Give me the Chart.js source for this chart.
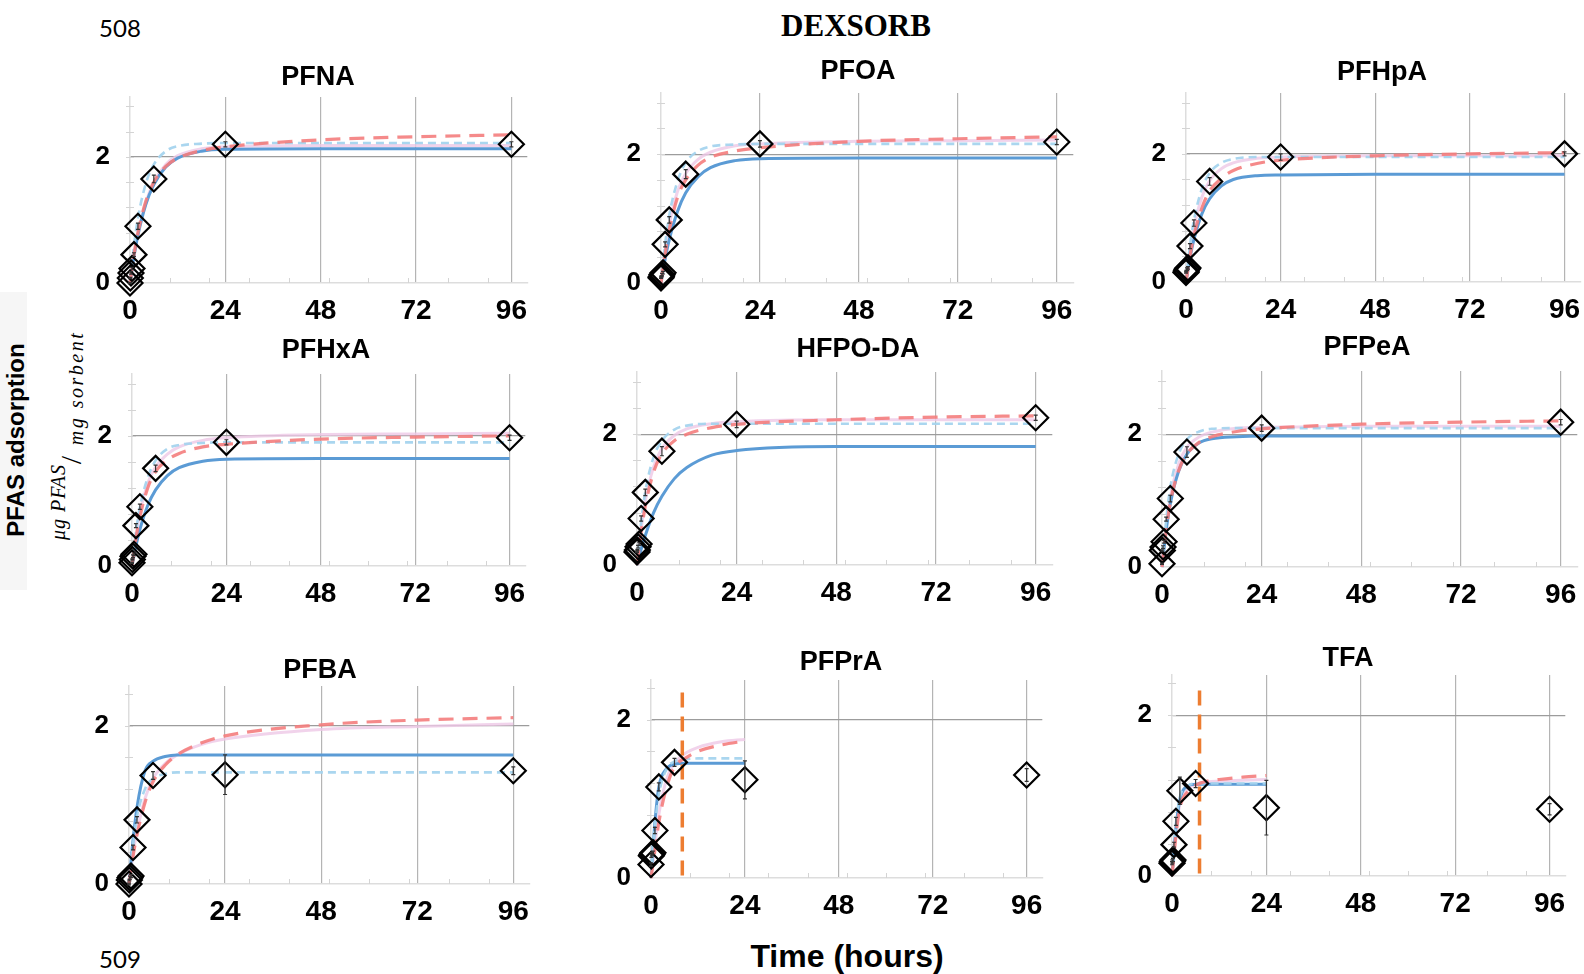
<!DOCTYPE html>
<html>
<head>
<meta charset="utf-8">
<script src="https://cdn.jsdelivr.net/npm/chart.js@4.4.1/dist/chart.umd.min.js"></script>
<style>
  html, body { margin: 0; padding: 0; background: #fff; }
  #page { position: relative; width: 1584px; height: 974px; overflow: hidden; background: #fff; }
  #page canvas { position: absolute; }
  .txt { position: absolute; white-space: nowrap; transform: translate(-50%, -50%); color: #000; }
  .rot { transform: translate(-50%, -50%) rotate(-90deg); }
</style>
</head>
<body>
<div id="page">
  <div class="txt" style="left:120px;top:27px;font:24px Lato, 'Open Sans', sans-serif;">508</div>
  <div class="txt" style="left:120px;top:958px;font:24px Lato, 'Open Sans', sans-serif;">509</div>
  <div class="txt" style="left:856px;top:26px;font:bold 31px 'Liberation Serif', 'DejaVu Serif', serif;">DEXSORB</div>
  <div class="txt" style="left:847px;top:956px;font:bold 32px 'Liberation Sans', Arial, sans-serif;">Time (hours)</div>
  <div style="position:absolute;left:0;top:292px;width:27px;height:298px;background:#f6f6f6;"></div>
  <div class="txt rot" style="left:16px;top:440px;font:bold 24px 'Liberation Sans', Arial, sans-serif;">PFAS adsorption</div>
  <div class="txt rot" style="left:58px;top:502px;font:italic 20px 'Liberation Serif', 'DejaVu Serif', serif;letter-spacing:1px;">μg PFAS</div>
  <div class="txt rot" style="left:71px;top:460px;font:30px 'Liberation Serif', 'DejaVu Serif', serif;">/</div>
  <div class="txt rot" style="left:76px;top:388px;font:italic 20px 'Liberation Serif', 'DejaVu Serif', serif;letter-spacing:2.5px;">mg sorbent</div>
</div>
<script>
// Sampling times of the measurements (hours)
const hours = [0, 0.083, 0.25, 0.5, 1, 2, 6, 24, 96];
const fitHours = [0, 1, 2, 4, 6, 9, 12, 18, 24, 48, 72, 96];

const xTickLabels = [0, 24, 48, 72, 96];
const yTickLabels = [0, 2];

// Measured adsorption (ug PFAS / mg sorbent) and error bars
const pfnaMeasured = [0, 0.08, 0.16, 0.23, 0.45, 0.9, 1.65, 2.2, 2.2];
const pfnaError = [0.01, 0.01, 0.02, 0.02, 0.03, 0.05, 0.06, 0.04, 0.04];
const pfoaMeasured = [0.08, 0.1, 0.13, 0.16, 0.6, 0.98, 1.69, 2.16, 2.19];
const pfoaError = [0.01, 0.01, 0.02, 0.02, 0.04, 0.05, 0.07, 0.05, 0.04];
const pfhpaMeasured = [0.15, 0.17, 0.2, 0.22, 0.56, 0.92, 1.57, 1.95, 2.0];
const pfhpaError = [0.01, 0.01, 0.02, 0.02, 0.04, 0.05, 0.06, 0.05, 0.03];
const pfhxaMeasured = [0.05, 0.1, 0.15, 0.18, 0.62, 0.91, 1.5, 1.9, 1.97];
const pfhxaError = [0.01, 0.01, 0.02, 0.02, 0.03, 0.04, 0.05, 0.04, 0.04];
const hfpodaMeasured = [0.2, 0.23, 0.28, 0.32, 0.71, 1.11, 1.74, 2.15, 2.25];
const hfpodaError = [0.01, 0.01, 0.02, 0.02, 0.04, 0.05, 0.07, 0.05, 0.04];
const pfpeaMeasured = [0.05, 0.25, 0.3, 0.38, 0.72, 1.03, 1.73, 2.09, 2.18];
const pfpeaError = [0.01, 0.01, 0.02, 0.02, 0.03, 0.05, 0.08, 0.05, 0.04];
const pfbaMeasured = [0, 0.05, 0.08, 0.1, 0.46, 0.81, 1.37, 1.38, 1.43];
const pfbaError = [0.01, 0.01, 0.02, 0.02, 0.03, 0.04, 0.05, 0.25, 0.05];
const pfpraMeasured = [0.17, 0.28, 0.3, 0.32, 0.6, 1.15, 1.46, 1.24, 1.3];
const pfpraError = [0.02, 0.02, 0.02, 0.02, 0.04, 0.05, 0.05, 0.24, 0.08];
const tfaMeasured = [0.16, 0.18, 0.2, 0.39, 0.68, 1.06, 1.15, 0.85, 0.83];
const tfaError = [0.02, 0.02, 0.02, 0.03, 0.05, 0.17, 0.05, 0.34, 0.07];

// Model curves: A = solid blue, B = light blue dashed, C = red dashed, D = pink
const pfnaFitA = [0, 0.42, 0.76, 1.25, 1.56, 1.84, 1.98, 2.09, 2.12, 2.13, 2.13, 2.13];
const pfnaFitB = [0, 0.59, 1.03, 1.58, 1.88, 2.09, 2.17, 2.21, 2.22, 2.22, 2.22, 2.22];
const pfnaFitC = [0, 0.45, 0.8, 1.3, 1.6, 1.85, 1.98, 2.1, 2.16, 2.27, 2.32, 2.35];
const pfnaFitD = [0, 0.43, 0.78, 1.28, 1.6, 1.88, 2.02, 2.13, 2.16, 2.18, 2.18, 2.18];

const pfoaFitA = [0, 0.37, 0.67, 1.11, 1.4, 1.65, 1.79, 1.9, 1.93, 1.94, 1.94, 1.94];
const pfoaFitB = [0, 0.6, 1.05, 1.58, 1.87, 2.05, 2.12, 2.15, 2.16, 2.16, 2.16, 2.16];
const pfoaFitC = [0, 0.45, 0.82, 1.33, 1.6, 1.83, 1.95, 2.05, 2.1, 2.2, 2.24, 2.27];
const pfoaFitD = [0, 0.5, 0.9, 1.42, 1.7, 1.92, 2.03, 2.13, 2.16, 2.2, 2.21, 2.22];

const pfhpaFitA = [0, 0.37, 0.66, 1.06, 1.3, 1.5, 1.6, 1.66, 1.67, 1.68, 1.68, 1.68];
const pfhpaFitB = [0, 0.56, 0.96, 1.45, 1.7, 1.86, 1.92, 1.95, 1.95, 1.95, 1.95, 1.95];
const pfhpaFitC = [0, 0.4, 0.72, 1.15, 1.42, 1.62, 1.74, 1.85, 1.9, 1.97, 2.0, 2.02];
const pfhpaFitD = [0, 0.48, 0.85, 1.32, 1.58, 1.77, 1.86, 1.93, 1.95, 1.97, 1.97, 1.97];

const pfhxaFitA = [0, 0.31, 0.56, 0.93, 1.17, 1.39, 1.51, 1.61, 1.64, 1.65, 1.65, 1.65];
const pfhxaFitB = [0, 0.52, 0.9, 1.36, 1.62, 1.8, 1.86, 1.89, 1.9, 1.9, 1.9, 1.9];
const pfhxaFitC = [0, 0.42, 0.75, 1.2, 1.45, 1.63, 1.73, 1.83, 1.87, 1.95, 1.98, 2.0];
const pfhxaFitD = [0, 0.45, 0.8, 1.27, 1.52, 1.72, 1.83, 1.93, 1.97, 2.02, 2.03, 2.04];

const hfpodaFitA = [0, 0.24, 0.45, 0.8, 1.05, 1.32, 1.49, 1.68, 1.75, 1.81, 1.81, 1.81];
const hfpodaFitB = [0, 0.65, 1.12, 1.65, 1.9, 2.07, 2.13, 2.16, 2.16, 2.16, 2.16, 2.16];
const hfpodaFitC = [0, 0.5, 0.9, 1.42, 1.7, 1.9, 2.0, 2.1, 2.15, 2.22, 2.26, 2.28];
const hfpodaFitD = [0, 0.55, 0.98, 1.5, 1.78, 1.98, 2.08, 2.16, 2.19, 2.22, 2.22, 2.22];

const pfpeaFitA = [0, 0.55, 0.95, 1.44, 1.7, 1.87, 1.93, 1.96, 1.97, 1.97, 1.97, 1.97];
const pfpeaFitB = [0, 0.7, 1.2, 1.7, 1.92, 2.04, 2.08, 2.09, 2.09, 2.09, 2.09, 2.09];
const pfpeaFitC = [0, 0.55, 0.97, 1.45, 1.7, 1.88, 1.96, 2.04, 2.08, 2.15, 2.18, 2.2];
const pfpeaFitD = [0, 0.6, 1.05, 1.55, 1.8, 1.96, 2.03, 2.09, 2.1, 2.12, 2.12, 2.12];

const pfbaFitA = [0, 0.55, 0.97, 1.43, 1.55, 1.61, 1.63, 1.63, 1.63, 1.63, 1.63, 1.63];
const pfbaFitB = [0, 0.5, 0.85, 1.2, 1.33, 1.39, 1.41, 1.41, 1.41, 1.41, 1.41, 1.41];
const pfbaFitC = [0, 0.35, 0.62, 1.03, 1.29, 1.5, 1.63, 1.78, 1.87, 2.01, 2.07, 2.1];
const pfbaFitD = [0, 0.38, 0.66, 1.08, 1.33, 1.52, 1.63, 1.76, 1.83, 1.95, 1.99, 2.02];

// PFPrA and TFA curves stop at 24 h
const pfpraFitA = [0, 0.7, 1.15, 1.38, 1.44, 1.45, 1.45, 1.45, 1.45];
const pfpraFitB = [0, 0.65, 1.05, 1.38, 1.47, 1.5, 1.51, 1.51, 1.51];
const pfpraFitC = [0, 0.35, 0.7, 1.15, 1.4, 1.52, 1.6, 1.68, 1.73];
const pfpraFitD = [0, 0.4, 0.8, 1.25, 1.45, 1.58, 1.65, 1.72, 1.75];

const tfaFitA = [0, 0.6, 0.95, 1.12, 1.14, 1.14, 1.14, 1.14, 1.14];
const tfaFitB = [0, 0.65, 0.98, 1.12, 1.15, 1.15, 1.15, 1.15, 1.15];
const tfaFitC = [0, 0.5, 0.85, 1.05, 1.13, 1.18, 1.2, 1.23, 1.25];
const tfaFitD = [0, 0.55, 0.9, 1.08, 1.14, 1.17, 1.18, 1.19, 1.2];

// Orange dashed cut-off line: [hour, y from, y to]
const pfpraCutoff = [8, 0.03, 2.38];
const tfaCutoff = [7, 0.03, 2.31];

// Panel placement on the page (pixels)
const panels = [
    { name: 'PFNA', measured: pfnaMeasured, error: pfnaError, fits: [pfnaFitA, pfnaFitB, pfnaFitC, pfnaFitD], x0: 130, x96: 514, y0: 283, unit: 63, yMax: 2.95, title: [318, 78] },
    { name: 'PFOA', measured: pfoaMeasured, error: pfoaError, fits: [pfoaFitA, pfoaFitB, pfoaFitC, pfoaFitD], x0: 661, x96: 1059, y0: 283, unit: 64.5, yMax: 2.95, title: [858, 72] },
    { name: 'PFHpA', measured: pfhpaMeasured, error: pfhpaError, fits: [pfhpaFitA, pfhpaFitB, pfhpaFitC, pfhpaFitD], x0: 1186, x96: 1567, y0: 282, unit: 64, yMax: 2.95, title: [1382, 73] },
    { name: 'PFHxA', measured: pfhxaMeasured, error: pfhxaError, fits: [pfhxaFitA, pfhxaFitB, pfhxaFitC, pfhxaFitD], x0: 132, x96: 512, y0: 566, unit: 65, yMax: 2.95, title: [326, 351] },
    { name: 'HFPO-DA', measured: hfpodaMeasured, error: hfpodaError, fits: [hfpodaFitA, hfpodaFitB, hfpodaFitC, hfpodaFitD], x0: 637, x96: 1038, y0: 565, unit: 65.5, yMax: 2.95, title: [858, 350] },
    { name: 'PFPeA', measured: pfpeaMeasured, error: pfpeaError, fits: [pfpeaFitA, pfpeaFitB, pfpeaFitC, pfpeaFitD], x0: 1162, x96: 1563, y0: 567, unit: 66.5, yMax: 2.95, title: [1367, 348] },
    { name: 'PFBA', measured: pfbaMeasured, error: pfbaError, fits: [pfbaFitA, pfbaFitB, pfbaFitC, pfbaFitD], x0: 129, x96: 516, y0: 883, unit: 79, yMax: 2.5, title: [320, 671] },
    { name: 'PFPrA', measured: pfpraMeasured, error: pfpraError, fits: [pfpraFitA, pfpraFitB, pfpraFitC, pfpraFitD], cutoff: pfpraCutoff, x0: 651, x96: 1029, y0: 877, unit: 79, yMax: 2.5, title: [841, 663] },
    { name: 'TFA', measured: tfaMeasured, error: tfaError, fits: [tfaFitA, tfaFitB, tfaFitC, tfaFitD], cutoff: tfaCutoff, x0: 1172, x96: 1552, y0: 876, unit: 80.5, yMax: 2.5, title: [1348, 659] }
];

const padL = 60, padR = 12, padT = 45, padB = 48;
const tickFont = "'Liberation Sans', Arial, sans-serif";

// Minor ticks, error bars and panel titles
const extras = {
    id: 'extras',
    beforeDatasetsDraw(chart) {
        const { ctx, chartArea: a, scales: { x, y } } = chart;
        ctx.save();
        ctx.strokeStyle = '#d4d4d4';
        ctx.lineWidth = 1;
        ctx.beginPath();
        for (let v = 0.4; v < y.max - 0.05; v += 0.4) {
            const py = Math.round(y.getPixelForValue(v)) + 0.5;
            ctx.moveTo(a.left - 4, py);
            ctx.lineTo(a.left + 4, py);
        }
        for (let h = 10; h < 100; h += 10) {
            const px = Math.round(x.getPixelForValue(h)) + 0.5;
            ctx.moveTo(px, a.bottom);
            ctx.lineTo(px, a.bottom - 5);
        }
        ctx.stroke();
        ctx.restore();
    },
    afterDatasetsDraw(chart) {
        const { ctx, scales: { y } } = chart;
        ctx.save();
        ctx.strokeStyle = '#333';
        ctx.lineWidth = 1.2;
        chart.data.datasets.forEach((ds, i) => {
            if (!ds.errors) return;
            chart.getDatasetMeta(i).data.forEach((pt, j) => {
                const v = ds.data[j].y, e = ds.errors[j];
                const top = y.getPixelForValue(v + e), bot = y.getPixelForValue(v - e);
                ctx.beginPath();
                ctx.moveTo(pt.x, top);
                ctx.lineTo(pt.x, bot);
                ctx.moveTo(pt.x - 2, top);
                ctx.lineTo(pt.x + 2, top);
                ctx.moveTo(pt.x - 2, bot);
                ctx.lineTo(pt.x + 2, bot);
                ctx.stroke();
            });
        });
        ctx.restore();
    },
    afterDraw(chart, args, opts) {
        const ctx = chart.ctx;
        ctx.save();
        ctx.font = "bold 27px " + tickFont;
        ctx.fillStyle = '#000';
        ctx.textAlign = 'center';
        ctx.textBaseline = 'middle';
        ctx.fillText(opts.text, opts.x, opts.y);
        ctx.restore();
    }
};

function curve(values, color, width, dash) {
    return {
        data: values.map((v, i) => ({ x: fitHours[i], y: v })),
        showLine: true,
        borderColor: color,
        borderWidth: width,
        borderDash: dash,
        pointRadius: 0,
        fill: false,
        cubicInterpolationMode: 'monotone'
    };
}

const page = document.getElementById('page');

panels.forEach(p => {
    const w = (p.x96 - p.x0) * 100 / 96;
    const h = p.unit * p.yMax;
    const left = p.x0 - padL;
    const top = Math.round(p.y0 - h - padT);

    const canvas = document.createElement('canvas');
    canvas.width = Math.round(padL + w + padR);
    canvas.height = Math.round(padT + h + padB);
    canvas.style.left = left + 'px';
    canvas.style.top = top + 'px';
    page.appendChild(canvas);

    const datasets = [{
        data: p.measured.map((v, i) => ({ x: hours[i], y: v })),
        errors: p.error,
        pointStyle: 'rectRot',
        pointRadius: 12.5,
        borderColor: '#000',
        borderWidth: 2.2,
        backgroundColor: 'rgba(255,255,255,0)',
        showLine: false
    }];
    if (p.cutoff) {
        datasets.push({
            data: [{ x: p.cutoff[0], y: p.cutoff[1] }, { x: p.cutoff[0], y: p.cutoff[2] }],
            showLine: true,
            borderColor: '#ED7D31',
            borderWidth: 3.5,
            borderDash: [15, 9],
            pointRadius: 0
        });
    }
    datasets.push(curve(p.fits[2], 'rgba(244,125,125,0.9)', 3.2, [15, 9]));
    datasets.push(curve(p.fits[1], 'rgba(165,212,238,0.95)', 2.6, [8, 5]));
    datasets.push(curve(p.fits[0], '#5B9BD5', 3, []));
    datasets.push(curve(p.fits[3], 'rgba(238,200,230,0.8)', 3, []));

    new Chart(canvas, {
        type: 'scatter',
        data: { datasets: datasets },
        options: {
            responsive: false,
            animation: false,
            events: [],
            clip: false,
            layout: { padding: { top: padT, right: padR, left: 0, bottom: 0 } },
            plugins: {
                legend: { display: false },
                tooltip: { enabled: false },
                extras: { text: p.name, x: p.title[0] - left, y: p.title[1] - top }
            },
            scales: {
                x: {
                    type: 'linear',
                    min: 0,
                    max: 100,
                    afterBuildTicks: axis => { axis.ticks = xTickLabels.map(v => ({ value: v })); },
                    afterFit: axis => { axis.height = padB; },
                    grid: {
                        drawTicks: false,
                        lineWidth: 1.2,
                        color: c => c.tick && c.tick.value === 0 ? 'rgba(0,0,0,0)' : '#b4b4b4'
                    },
                    border: { color: '#dddddd', width: 1.5 },
                    ticks: {
                        color: '#000',
                        padding: 11,
                        maxRotation: 0,
                        autoSkip: false,
                        font: { family: tickFont, size: 28, weight: 'bold' }
                    }
                },
                y: {
                    min: 0,
                    max: p.yMax,
                    afterBuildTicks: axis => { axis.ticks = yTickLabels.map(v => ({ value: v })); },
                    afterFit: axis => { axis.width = padL; },
                    grid: {
                        drawTicks: false,
                        lineWidth: 1.2,
                        color: c => c.tick && c.tick.value === 2 ? '#9c9c9c' : 'rgba(0,0,0,0)'
                    },
                    border: { color: '#dddddd', width: 1.5 },
                    ticks: {
                        color: '#000',
                        padding: 20,
                        font: { family: tickFont, size: 26, weight: 'bold' }
                    }
                }
            }
        },
        plugins: [extras]
    });
});
</script>
</body>
</html>
